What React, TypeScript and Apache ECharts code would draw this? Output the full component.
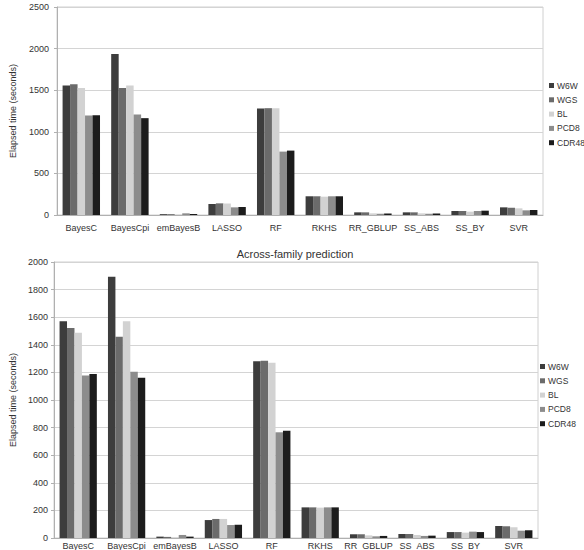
import React, { useEffect, useRef } from "react";
import * as echarts from "echarts";

const categories = ["BayesC", "BayesCpi", "emBayesB", "LASSO", "RF", "RKHS", "RR_GBLUP", "SS_ABS", "SS_BY", "SVR"];
const seriesNames = ["W6W", "WGS", "BL", "PCD8", "CDR48"];
const seriesColors = ["#3d3d3d", "#6b6b6b", "#d2d2d2", "#8c8c8c", "#1c1c1c"];

// Top chart values
const topW6W = [1557, 1934, 10, 132, 1280, 225, 32, 32, 48, 92];
const topWGS = [1573, 1525, 10, 140, 1284, 225, 32, 32, 48, 88];
const topBL = [1525, 1557, 5, 138, 1284, 220, 20, 20, 40, 80];
const topPCD8 = [1196, 1208, 20, 92, 762, 225, 15, 15, 48, 56];
const topCDR48 = [1200, 1164, 12, 96, 774, 225, 18, 18, 52, 60];

// Bottom chart values (Across-family prediction)
const botW6W = [1570, 1893, 10, 130, 1280, 222, 27, 29, 43, 87];
const botWGS = [1521, 1459, 8, 138, 1285, 222, 27, 29, 43, 85];
const botBL = [1488, 1570, 5, 138, 1270, 220, 19, 22, 39, 77];
const botPCD8 = [1178, 1205, 22, 94, 766, 222, 12, 15, 46, 53];
const botCDR48 = [1188, 1162, 10, 96, 778, 222, 15, 17, 43, 56];

const topTicks = { max: 2500, interval: 500 };
const botTicks = { max: 2000, interval: 200 };
const yName = "Elapsed time (seconds)";
const bottomTitle = "Across-family prediction";

const FONT = "Liberation Sans, Arial, sans-serif";

export default function App() {
  const ref = useRef<HTMLDivElement>(null);
  useEffect(() => {
    if (!ref.current) return;
    const chart = echarts.init(ref.current, undefined, { renderer: "svg" });
    const topData = [topW6W, topWGS, topBL, topPCD8, topCDR48];
    const botData = [botW6W, botWGS, botBL, botPCD8, botCDR48];
    const mkSeries = (data: number[][], idx: number) =>
      seriesNames.map((n, i) => ({
        name: n,
        type: "bar",
        xAxisIndex: idx,
        yAxisIndex: idx,
        data: data[i],
        barGap: "0%",
        barCategoryGap: "23%",
        itemStyle: { color: seriesColors[i] },
      }));
    const xAxisBase = (gi: number, margin: number) => ({
      type: "category",
      gridIndex: gi,
      data: categories,
      axisLine: { lineStyle: { color: "#b0b0b0" } },
      axisTick: { show: false },
      axisLabel: { color: "#333", fontSize: 9, fontFamily: FONT, margin, interval: 0 },
    });
    const yAxisBase = (gi: number, t: { max: number; interval: number }, nameGap: number, margin: number) => ({
      type: "value",
      gridIndex: gi,
      min: 0,
      max: t.max,
      interval: t.interval,
      name: yName,
      nameLocation: "middle",
      nameGap,
      nameTextStyle: { color: "#333", fontSize: 9, fontFamily: FONT },
      axisLine: { show: true, lineStyle: { color: "#b0b0b0" } },
      axisTick: { show: true, length: 3, lineStyle: { color: "#b0b0b0" } },
      axisLabel: { color: "#333", fontSize: 9, fontFamily: FONT, margin, formatter: (v: number) => String(v) },
      splitLine: { lineStyle: { color: "#d4d4d4" } },
    });
    const legendBase = (left: number, top: number) => ({
      orient: "vertical",
      left,
      top,
      padding: 0,
      data: seriesNames,
      icon: "rect",
      itemWidth: 5,
      itemHeight: 5,
      itemGap: 5.3,
      textStyle: { color: "#333", fontSize: 8.5, fontFamily: FONT, padding: [0, 0, 0, -2] },
    });
    chart.setOption({
      animation: false,
      backgroundColor: "#fff",
      title: {
        text: bottomTitle,
        left: 290,
        textAlign: "center",
        top: 243,
        textStyle: { color: "#333", fontSize: 11, fontWeight: "normal", fontFamily: FONT },
      },
      legend: [legendBase(549, 81), legendBase(540, 362)],
      grid: [
        { left: 57, right: 41, top: 7, height: 208, show: true, borderColor: "#d0d0d0", borderWidth: 1 },
        { left: 49, right: 46, top: 262, height: 276, show: true, borderColor: "#d0d0d0", borderWidth: 1 },
      ],
      xAxis: [xAxisBase(0, 8), xAxisBase(1, 3)],
      yAxis: [yAxisBase(0, topTicks, 40, 8), yAxisBase(1, botTicks, 37, 6)],
      series: [...mkSeries(topData, 0), ...mkSeries(botData, 1)],
    } as any);
    return () => chart.dispose();
  }, []);
  return <div ref={ref} style={{ position: "absolute", left: 0, top: 0, width: 584, height: 550 }} />;
}
